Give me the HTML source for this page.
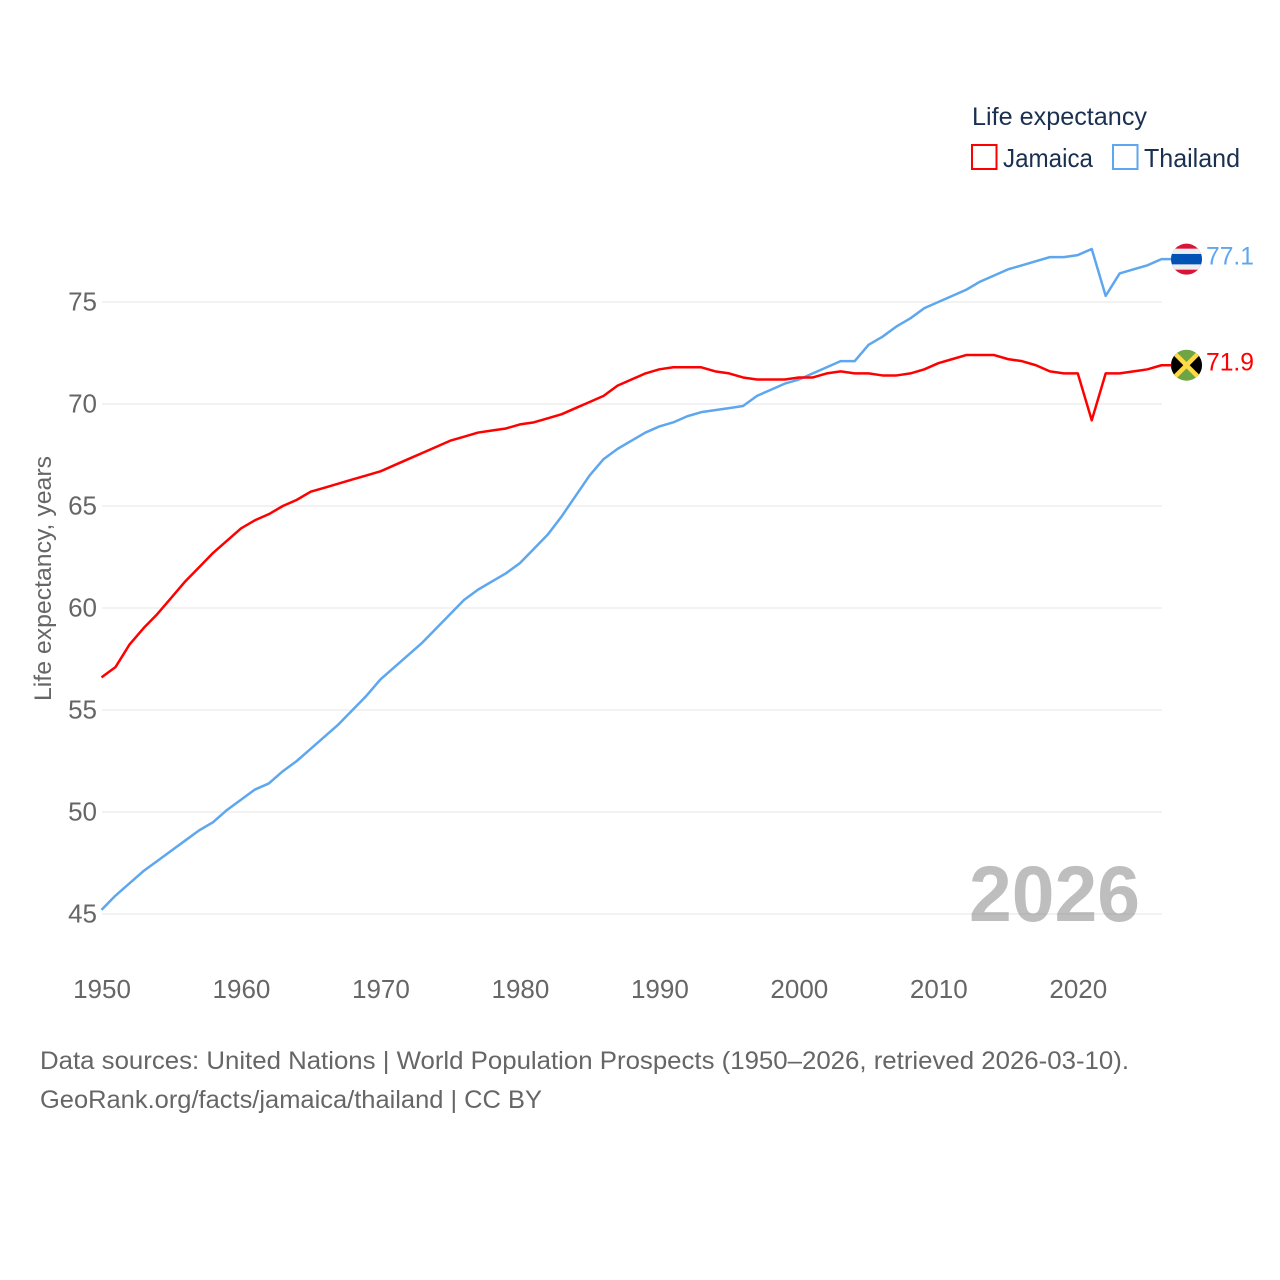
<!DOCTYPE html>
<html>
<head>
<meta charset="utf-8">
<title>Life expectancy: Jamaica and Thailand</title>
<style>
html,body{margin:0;padding:0;background:#fff;}
svg{display:block;}
text{font-family:"Liberation Sans",sans-serif;}
</style>
</head>
<body>
<svg id="chart" width="1280" height="1280" viewBox="0 0 1280 1280" xmlns="http://www.w3.org/2000/svg">
  <defs>
    <clipPath id="clip-th"><circle id="clip-th-c" cx="0" cy="0" r="15.5"></circle></clipPath>
    <clipPath id="clip-jm"><circle id="clip-jm-c" cx="0" cy="0" r="15.5"></circle></clipPath>
  </defs>
  <rect width="1280" height="1280" fill="#ffffff"></rect>
  <g id="grid"></g>
  <text x="969" y="921" font-size="79" font-weight="700" fill="#888888" fill-opacity="0.55" textLength="171" lengthAdjust="spacingAndGlyphs">2026</text>
  <g id="ytick-labels"></g>
  <g id="xtick-labels"></g>
  <text transform="translate(51,701) rotate(-90)" font-size="24" fill="#666666" textLength="245" lengthAdjust="spacingAndGlyphs">Life expectancy, years</text>
  <g id="series"></g>
  <g id="ends"></g>

  <g>
    <text x="972" y="125" font-size="25" fill="#1a3050" textLength="175" lengthAdjust="spacingAndGlyphs">Life expectancy</text>
    <rect x="972" y="145" width="24.5" height="24" fill="none" stroke="#ff0000" stroke-width="2"></rect>
    <text x="1003" y="167" font-size="26" fill="#1a3050" textLength="90" lengthAdjust="spacingAndGlyphs">Jamaica</text>
    <rect x="1113" y="145" width="24.5" height="24" fill="none" stroke="#5ea7ee" stroke-width="2"></rect>
    <text x="1144" y="167" font-size="26" fill="#1a3050" textLength="96" lengthAdjust="spacingAndGlyphs">Thailand</text>
  </g>

  <text x="40" y="1069" font-size="25" fill="#666666" textLength="1089" lengthAdjust="spacingAndGlyphs">Data sources: United Nations | World Population Prospects (1950–2026, retrieved 2026-03-10).</text>
  <text x="40" y="1108" font-size="25" fill="#666666" textLength="502" lengthAdjust="spacingAndGlyphs">GeoRank.org/facts/jamaica/thailand | CC BY</text>
</svg>
<script>
const firstYear = 1950;
const yTicks = [45, 50, 55, 60, 65, 70, 75];
const xTicks = [1950, 1960, 1970, 1980, 1990, 2000, 2010, 2020];
const jamaica = [56.6,57.1,58.2,59.0,59.7,60.5,61.3,62.0,62.7,63.3,63.9,64.3,64.6,65.0,65.3,65.7,65.9,66.1,66.3,66.5,66.7,67.0,67.3,67.6,67.9,68.2,68.4,68.6,68.7,68.8,69.0,69.1,69.3,69.5,69.8,70.1,70.4,70.9,71.2,71.5,71.7,71.8,71.8,71.8,71.6,71.5,71.3,71.2,71.2,71.2,71.3,71.3,71.5,71.6,71.5,71.5,71.4,71.4,71.5,71.7,72.0,72.2,72.4,72.4,72.4,72.2,72.1,71.9,71.6,71.5,71.5,69.2,71.5,71.5,71.6,71.7,71.9];
const thailand = [45.2,45.9,46.5,47.1,47.6,48.1,48.6,49.1,49.5,50.1,50.6,51.1,51.4,52.0,52.5,53.1,53.7,54.3,55.0,55.7,56.5,57.1,57.7,58.3,59.0,59.7,60.4,60.9,61.3,61.7,62.2,62.9,63.6,64.5,65.5,66.5,67.3,67.8,68.2,68.6,68.9,69.1,69.4,69.6,69.7,69.8,69.9,70.4,70.7,71.0,71.2,71.5,71.8,72.1,72.1,72.9,73.3,73.8,74.2,74.7,75.0,75.3,75.6,76.0,76.3,76.6,76.8,77.0,77.2,77.2,77.3,77.6,75.3,76.4,76.6,76.8,77.1];

const NS = 'http://www.w3.org/2000/svg';
const xScale = function (year) { return 101.5 + (year - 1950) * 13.947; };
const yScale = function (v) { return 914 - (v - 45) * 20.4; };
const lastYear = firstYear + jamaica.length - 1;
const plotRight = 1162;
const flagX = 1186.5;

const grid = document.getElementById('grid');
const yLabels = document.getElementById('ytick-labels');
yTicks.forEach(function (t) {
  const line = document.createElementNS(NS, 'line');
  
  
  line.setAttribute('x1', 102);
  line.setAttribute('x2', plotRight);
  line.setAttribute('y1', yScale(t));
  line.setAttribute('y2', yScale(t));
  line.setAttribute('stroke', '#eeeeee');
  line.setAttribute('stroke-width', 1.5);
  grid.appendChild(line);

  const label = document.createElementNS(NS, 'text');
  
  
  label.setAttribute('x', 97);
  label.setAttribute('y', yScale(t) + 8.5);
  label.setAttribute('text-anchor', 'end');
  label.setAttribute('font-size', 26);
  label.setAttribute('fill', '#666666');
  label.textContent = t;
  yLabels.appendChild(label);
});

const xLabels = document.getElementById('xtick-labels');
xTicks.forEach(function (t) {
  const label = document.createElementNS(NS, 'text');
  
  
  label.setAttribute('x', xScale(t) + 0.5);
  label.setAttribute('y', 998);
  label.setAttribute('text-anchor', 'middle');
  label.setAttribute('font-size', 26);
  label.setAttribute('fill', '#666666');
  label.textContent = t;
  xLabels.appendChild(label);
});

function linePath(values) {
  let d = '';
  values.forEach(function (v, i) {
    d += (i ? 'L' : 'M') + xScale(firstYear + i).toFixed(2) + ' ' + yScale(v).toFixed(2);
  });
  d += 'L' + flagX + ' ' + yScale(values[values.length - 1]).toFixed(2);
  return d;
}

const seriesGroup = document.getElementById('series');

const thLine = document.createElementNS(NS, 'path');


thLine.setAttribute('d', linePath(thailand));
thLine.setAttribute('fill', 'none');
thLine.setAttribute('stroke', '#5ea7ee');
thLine.setAttribute('stroke-width', 2.5);
thLine.setAttribute('stroke-linejoin', 'round');
seriesGroup.appendChild(thLine);

const jmLine = document.createElementNS(NS, 'path');


jmLine.setAttribute('d', linePath(jamaica));
jmLine.setAttribute('fill', 'none');
jmLine.setAttribute('stroke', '#ff0000');
jmLine.setAttribute('stroke-width', 2.5);
jmLine.setAttribute('stroke-linejoin', 'round');
seriesGroup.appendChild(jmLine);

function addShape(parent, tag, attrs) {
  const el = document.createElementNS(NS, tag);
  Object.keys(attrs).forEach(function (k) { el.setAttribute(k, attrs[k]); });
  parent.appendChild(el);
  return el;
}

const ends = document.getElementById('ends');
const thY = yScale(thailand[thailand.length - 1]);
const jmY = yScale(jamaica[jamaica.length - 1]);

document.getElementById('clip-th-c').setAttribute('cx', flagX);
document.getElementById('clip-th-c').setAttribute('cy', thY);
document.getElementById('clip-jm-c').setAttribute('cx', flagX);
document.getElementById('clip-jm-c').setAttribute('cy', jmY);

const thFlag = document.createElementNS(NS, 'g');


thFlag.setAttribute('clip-path', 'url(#clip-th)');
ends.appendChild(thFlag);
addShape(thFlag, 'rect', {x: flagX - 16, y: thY - 16, width: 32, height: 32, fill: '#d8143a'});
addShape(thFlag, 'rect', {x: flagX - 16, y: thY - 10.5, width: 32, height: 21, fill: '#eeeeee'});
addShape(thFlag, 'rect', {x: flagX - 16, y: thY - 5.2, width: 32, height: 10.4, fill: '#0052b4'});

const jmFlag = document.createElementNS(NS, 'g');


jmFlag.setAttribute('clip-path', 'url(#clip-jm)');
ends.appendChild(jmFlag);
addShape(jmFlag, 'rect', {x: flagX - 16, y: jmY - 16, width: 32, height: 32, fill: '#6da544'});
addShape(jmFlag, 'polygon', {points: (flagX - 16) + ',' + (jmY - 16) + ' ' + flagX + ',' + jmY + ' ' + (flagX - 16) + ',' + (jmY + 16), fill: '#000000'});
addShape(jmFlag, 'polygon', {points: (flagX + 16) + ',' + (jmY - 16) + ' ' + flagX + ',' + jmY + ' ' + (flagX + 16) + ',' + (jmY + 16), fill: '#000000'});
addShape(jmFlag, 'line', {x1: flagX - 16, y1: jmY - 16, x2: flagX + 16, y2: jmY + 16, stroke: '#ffda44', 'stroke-width': 4.5});
addShape(jmFlag, 'line', {x1: flagX + 16, y1: jmY - 16, x2: flagX - 16, y2: jmY + 16, stroke: '#ffda44', 'stroke-width': 4.5});

const thValue = document.createElementNS(NS, 'text');


thValue.setAttribute('x', 1206);
thValue.setAttribute('y', thY + 5.3);
thValue.setAttribute('font-size', 25);
thValue.setAttribute('fill', '#5ea7ee');
thValue.setAttribute('textLength', 48);
thValue.setAttribute('lengthAdjust', 'spacingAndGlyphs');
thValue.textContent = thailand[thailand.length - 1].toFixed(1);
ends.appendChild(thValue);

const jmValue = document.createElementNS(NS, 'text');


jmValue.setAttribute('x', 1206);
jmValue.setAttribute('y', jmY + 5.3);
jmValue.setAttribute('font-size', 25);
jmValue.setAttribute('fill', '#ff0000');
jmValue.setAttribute('textLength', 48);
jmValue.setAttribute('lengthAdjust', 'spacingAndGlyphs');
jmValue.textContent = jamaica[jamaica.length - 1].toFixed(1);
ends.appendChild(jmValue);
</script>
</body>
</html>
